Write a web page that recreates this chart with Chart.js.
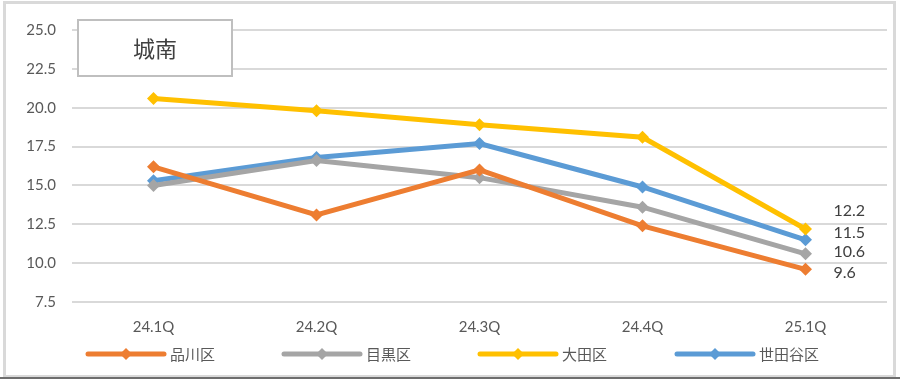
<!DOCTYPE html>
<html><head><meta charset="utf-8">
<script src="https://cdn.jsdelivr.net/npm/chart.js@4"></script>
<style>
html,body{margin:0;padding:0;background:#fff;}
#wrap{position:absolute;left:0;top:0;width:900px;height:380px;}
#frame{position:absolute;left:3px;top:1px;width:887px;height:371px;border:3px solid #d9d9d9;}
#bottom{position:absolute;left:0;top:377px;width:900px;height:2px;background:#6e6e6e;}
canvas{position:absolute;left:0;top:0;}
</style></head>
<body>
<div id="wrap">
<div id="frame"></div>
<div id="bottom"></div>
<canvas id="c" width="900" height="380"></canvas>
</div>
<script>
const categories = ['24.1Q','24.2Q','24.3Q','24.4Q','25.1Q'];
const shinagawa = [16.2, 13.1, 16.0, 12.4, 9.6];
const meguro    = [15.0, 16.6, 15.5, 13.6, 10.6];
const ota       = [20.6, 19.8, 18.9, 18.1, 12.2];
const setagaya  = [15.3, 16.8, 17.7, 14.9, 11.5];
const seriesNames = ['品川区','目黒区','大田区','世田谷区'];
const yTicks = [7.5, 10.0, 12.5, 15.0, 17.5, 20.0, 22.5, 25.0];
const titleText = '城南';

const colors = ['#ED7D31','#A5A5A5','#FFC000','#5B9BD5'];
const labelOffsets = [3, -2, -18, -7];
const seriesData = [shinagawa, meguro, ota, setagaya];

const textColor = '#595959';
const fontFam = "Lato, 'Noto Sans CJK JP', sans-serif";

const extras = {
  id: 'extras',
  afterDatasetsDraw(chart) {
    const ctx = chart.ctx;
    ctx.save();
    // last-point value labels
    ctx.font = "16px " + fontFam;
    ctx.fillStyle = '#404040';
    ctx.textAlign = 'left';
    ctx.textBaseline = 'middle';
    chart.data.datasets.forEach((ds, i) => {
      const meta = chart.getDatasetMeta(i);
      const last = meta.data[meta.data.length - 1];
      ctx.fillText(ds.data[ds.data.length - 1].toFixed(1), last.x + 28, last.y + labelOffsets[i]);
    });
    // title box
    ctx.fillStyle = '#fff';
    ctx.fillRect(78, 20, 154, 56);
    ctx.strokeStyle = '#bfbfbf';
    ctx.lineWidth = 2;
    ctx.strokeRect(78, 20, 154, 56);
    ctx.fillStyle = '#404040';
    ctx.font = "22px 'Noto Sans CJK JP', sans-serif";
    ctx.textAlign = 'center';
    ctx.fillText(titleText, 155, 49);
    // legend
    const startX = [88, 284, 480, 677];
    const ly = 354;
    chart.data.datasets.forEach((ds, i) => {
      const x0 = startX[i];
      ctx.strokeStyle = colors[i];
      ctx.lineWidth = 5;
      ctx.lineCap = 'round';
      ctx.beginPath();
      ctx.moveTo(x0, ly); ctx.lineTo(x0 + 76, ly);
      ctx.stroke();
      ctx.fillStyle = colors[i];
      const cx = x0 + 38, r = 6;
      ctx.beginPath();
      ctx.moveTo(cx, ly - r); ctx.lineTo(cx + r, ly); ctx.lineTo(cx, ly + r); ctx.lineTo(cx - r, ly);
      ctx.closePath(); ctx.fill();
      ctx.fillStyle = textColor;
      ctx.font = "15px 'Noto Sans CJK JP', sans-serif";
      ctx.textAlign = 'left';
      ctx.fillText(ds.label, x0 + 82, ly);
    });
    ctx.restore();
  }
};

new Chart(document.getElementById('c'), {
  type: 'line',
  data: {
    labels: categories,
    datasets: seriesNames.map((n, i) => ({
      label: n,
      data: seriesData[i],
      borderColor: colors[i],
      backgroundColor: colors[i],
      borderWidth: 5,
      pointStyle: 'rectRot',
      pointRadius: 6.5,
      pointBorderWidth: 0,
      tension: 0,
      fill: false
    }))
  },
  options: {
    responsive: false,
    animation: false,
    layout: { padding: { left: 6, top: 30, right: 13, bottom: 0 } },
    plugins: { legend: { display: false }, tooltip: { enabled: false } },
    scales: {
      x: {
        offset: true,
        grid: { display: false, drawTicks: false },
        border: { display: false },
        ticks: { color: textColor, font: { family: fontFam, size: 15 }, padding: 16 },
        afterFit(s) { s.height = 78; }
      },
      y: {
        min: 7.5, max: 25,
        afterBuildTicks(s) { s.ticks = yTicks.map(v => ({ value: v })); },
        grid: { color: '#d9d9d9', lineWidth: 2, drawTicks: false },
        border: { display: false },
        ticks: { color: textColor, font: { family: fontFam, size: 15 }, padding: 16,
                 callback: v => Number(v).toFixed(1) },
        afterFit(s) { s.width = 66; }
      }
    }
  },
  plugins: [extras]
});
</script>
</body></html>
